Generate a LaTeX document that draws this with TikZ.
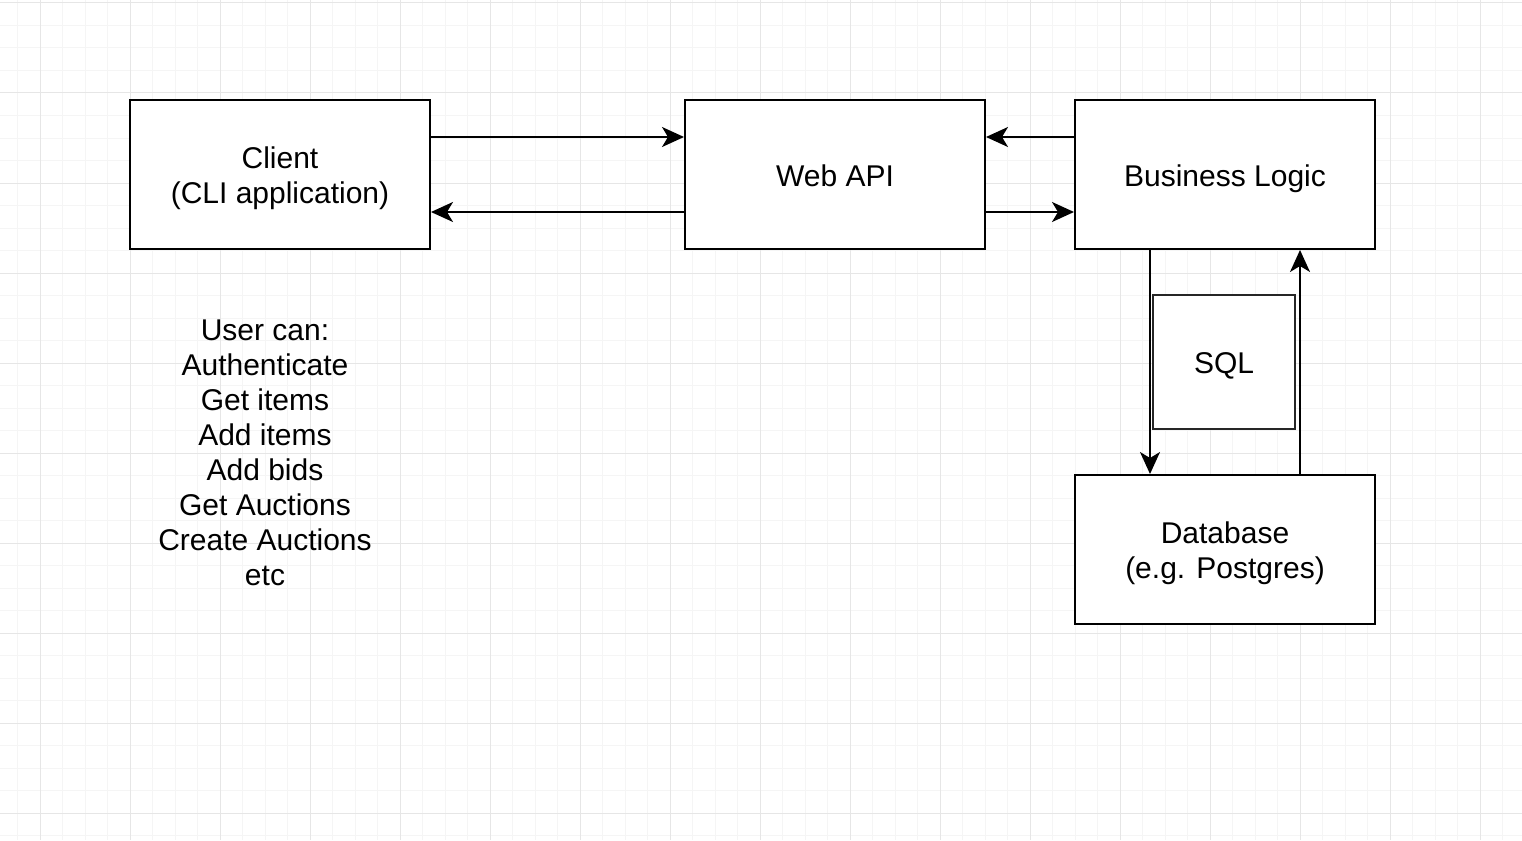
\documentclass[tikz,border=0pt]{standalone}
\usepackage{fontspec}
\setmainfont{Liberation Sans}
\usetikzlibrary{arrows.meta}
\definecolor{gmajor}{HTML}{E6E6E6}
\definecolor{gminor}{HTML}{F5F5F5}
\newcommand{\topstrut}{\rule{0pt}{30pt}}
\tikzset{
  box/.style={draw=black, line width=2pt, fill=white, minimum width=300pt, minimum height=149pt, inner sep=0pt, align=center, font=\fontsize{30}{35}\selectfont},
  single/.style={text height=30pt, text depth=6.4pt},
  sqlbox/.style={draw=black!85, line width=2pt, fill=white, minimum width=142pt, minimum height=134pt, inner sep=0pt, align=center, font=\fontsize{30}{35}\selectfont, text height=30pt, text depth=6.4pt},
  plain/.style={inner sep=0pt, align=center, font=\fontsize{30}{35}\selectfont},
  conn/.style={line width=2pt, -{Stealth[length=22pt,width=20pt,inset=6pt]}}
}
\begin{document}
\begin{tikzpicture}[x=1pt,y=-1pt]
\useasboundingbox (0,0) rectangle (1522,840);
\fill[white] (0,0) rectangle (1522,840);
% minor grid
\foreach \i in {0,...,67} {
  \draw[gminor, line width=1pt] ({17.5+22.5*\i},0) -- ({17.5+22.5*\i},840);
}
\foreach \j in {0,...,37} {
  \draw[gminor, line width=1pt] (0,{3+22.5*\j}) -- (1522,{3+22.5*\j});
}
% major grid
\foreach \i in {0,...,16} {
  \draw[gmajor, line width=1pt] ({40+90*\i},0) -- ({40+90*\i},840);
}
\foreach \j in {0,...,9} {
  \draw[gmajor, line width=1pt] (0,{3+90*\j}) -- (1522,{3+90*\j});
}
% nodes
\node[box] (client) at (280,174.5) {\topstrut Client\\(CLI application)};
\node[box, single] (web) at (835,174.5) {Web API};
\node[box, single] (bl) at (1225,174.5) {Business Logic};
\node[box] (db) at (1225,549.5) {\topstrut Database\\(e.g. Postgres)};
\node[sqlbox] (sql) at (1224,362) {SQL};
\node[plain] (users) at (265,453) {User can:\\Authenticate\\Get items\\Add items\\Add bids\\Get Auctions\\Create Auctions\\etc};
% connectors
\draw[conn] ([yshift=37.5pt]client.east) -- ([yshift=37.5pt]web.west);
\draw[conn] ([yshift=-37.5pt]web.west) -- ([yshift=-37.5pt]client.east);
\draw[conn] ([yshift=37.5pt]bl.west) -- ([yshift=37.5pt]web.east);
\draw[conn] ([yshift=-37.5pt]web.east) -- ([yshift=-37.5pt]bl.west);
\draw[conn] ([xshift=-75pt]bl.south) -- ([xshift=-75pt]db.north);
\draw[conn] ([xshift=75pt]db.north) -- ([xshift=75pt]bl.south);
\end{tikzpicture}
\end{document}
